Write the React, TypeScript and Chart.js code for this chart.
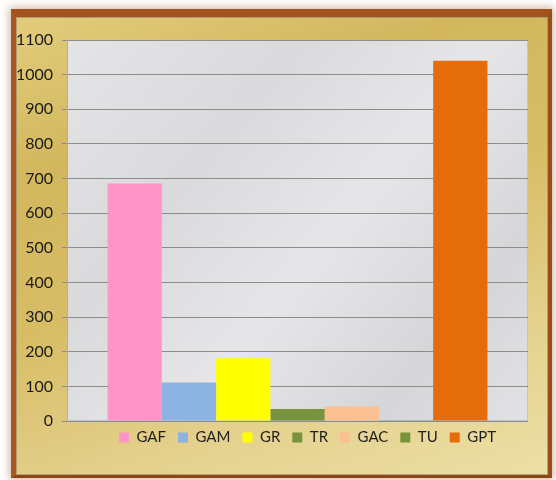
import React, { useEffect, useRef } from "react";
import { Chart, registerables } from "chart.js";
Chart.register(...registerables);

const categories = [""];
const seriesNames = ["GAF", "GAM", "GR", "TR", "GAC", "TU", "GPT"];
const seriesValues = [686, 111, 181, 35, 42, 2, 1040];
const seriesColors = ["#ff94c8", "#8db3e2", "#ffff00", "#77933c", "#fac090", "#77933c", "#e46c0a"];
const yMin = 0;
const yMax = 1100;
const yStep = 100;

const marblePlugin = {
  id: "marbleBg",
  beforeDraw(chart: any) {
    const { ctx, chartArea } = chart;
    if (!chartArea) return;
    const { left, top, right, bottom } = chartArea;
    ctx.save();
    const g = ctx.createLinearGradient(left, top, right, bottom);
    g.addColorStop(0, "#e4e4e6");
    g.addColorStop(0.3, "#dadadc");
    g.addColorStop(0.55, "#e6e6e8");
    g.addColorStop(0.8, "#d6d6d8");
    g.addColorStop(1, "#e2e2e4");
    ctx.fillStyle = g;
    ctx.fillRect(left, top, right - left, bottom - top);
    ctx.strokeStyle = "#bcc6d2";
    ctx.lineWidth = 1;
    ctx.strokeRect(left + 0.5, top + 0.5, right - left - 1, bottom - top - 1);
    ctx.restore();
  },
};

const legendShift = {
  id: "legendShift",
  afterLayout(chart: any) {
    const lg = chart.legend;
    if (!lg) return;
    lg.left += 10;
    lg.right += 10;
    lg.top -= 3;
    lg.bottom -= 3;
  },
};

export default function App() {
  const ref = useRef<HTMLCanvasElement | null>(null);
  useEffect(() => {
    if (!ref.current) return;
    const chart = new Chart(ref.current, {
      type: "bar",
      data: {
        labels: categories,
        datasets: seriesNames.map((name, i) => ({
          label: name,
          data: [seriesValues[i]],
          backgroundColor: seriesColors[i],
          borderWidth: 0,
          barPercentage: 1,
          categoryPercentage: 0.824,
        })),
      },
      options: {
        animation: false,
        responsive: false,
        maintainAspectRatio: false,
        layout: { padding: { top: 40, right: 28, bottom: 22, left: 0 } },
        scales: {
          x: { display: false },
          y: {
            min: yMin,
            max: yMax,
            ticks: {
              stepSize: yStep,
              color: "#1a1a1a",
              padding: 9,
              font: { family: "Lato", size: 16 },
              callback: (v: any) => String(v),
            },
            grid: { color: "#8c8c8c", lineWidth: 1, tickLength: 5 },
            border: { display: true, color: "#a8b0bc" },
            afterFit: (s: any) => {
              s.width = 67;
            },
          },
        },
        plugins: {
          legend: {
            position: "bottom",
            fullSize: false,
            labels: {
              boxWidth: 10,
              boxHeight: 10,
              padding: 12,
              color: "#1e1e1e",
              font: { family: "Lato", size: 15 },
            },
          },
          tooltip: { enabled: false },
        },
      },
      plugins: [marblePlugin, legendShift],
    });
    return () => chart.destroy();
  }, []);

  return (
    <div style={{ position: "fixed", left: 0, top: 0, width: 556, height: 480, background: "#ffffff" }}>
      <div
        style={{
          position: "absolute",
          left: 11,
          top: 9,
          width: 541,
          height: 469,
          boxSizing: "border-box",
          borderStyle: "solid",
          borderColor: "#a4521c #9a4c1a #8e4616 #a85820",
          borderWidth: "8px 4px 3px 5px",
          boxShadow: "0 0 8px 2px rgba(120,60,20,0.35)",
          background:
            "linear-gradient(160deg, #e2cc7c 0%, #d2b75e 25%, #d7bd66 50%, #e4d08c 75%, #ece0a6 100%)",
        }}
      >
        <div style={{ position: "absolute", inset: 0, border: "1px solid #9a8e70", opacity: 0.7 }} />
      </div>
      <canvas ref={ref} width={556} height={480} style={{ position: "absolute", left: 0, top: 0 }} />
    </div>
  );
}
